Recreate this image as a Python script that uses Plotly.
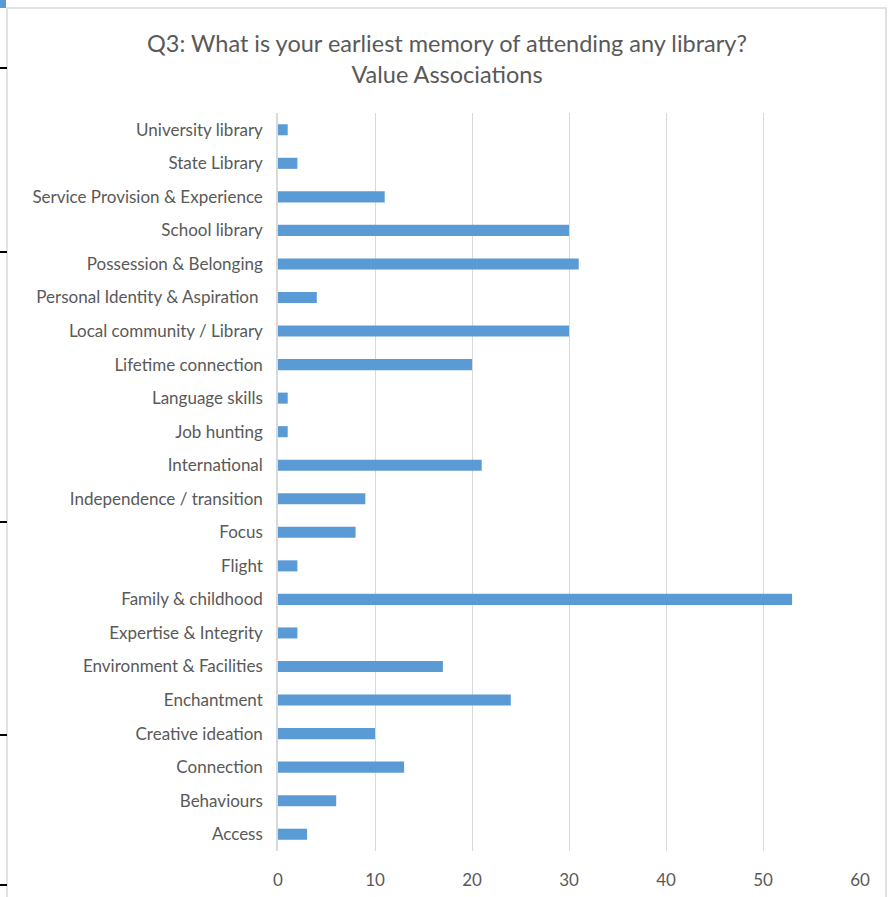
import plotly.graph_objects as go

categories = ["Access", "Behaviours", "Connection", "Creative ideation", "Enchantment",
              "Environment & Facilities", "Expertise & Integrity", "Family & childhood",
              "Flight", "Focus", "Independence / transition", "International",
              "Job hunting", "Language skills", "Lifetime connection",
              "Local community / Library", "Personal Identity & Aspiration ",
              "Possession & Belonging", "School library", "Service Provision & Experience",
              "State Library", "University library"]
values = [3, 6, 13, 10, 24, 17, 2, 53, 2, 8, 9, 21, 1, 1, 20, 30, 4, 31, 30, 11, 2, 1]
x_ticks = [0, 10, 20, 30, 40, 50, 60]

W, H = 894, 897
L, R, T, B = 278, 34, 113, 46
pw, ph = W - L - R, H - T - B

def px(x):
    return (x - L) / pw

def py(y):
    return (H - B - y) / ph

fig = go.Figure(go.Bar(
    x=values, y=categories, orientation="h",
    marker=dict(color="#5B9BD5", line=dict(width=0)),
    width=0.33,
))

shapes = [
    dict(type="rect", xref="paper", yref="paper", x0=px(7), x1=px(886), y0=py(905), y1=py(8),
         line=dict(color="#D9D9D9", width=1.5), fillcolor="rgba(0,0,0,0)", layer="below"),
    dict(type="rect", xref="paper", yref="paper", x0=px(0), x1=px(6), y0=py(8), y1=py(0),
         line=dict(width=0), fillcolor="#5B9BD5"),
]
for yy in [68, 252, 522, 735, 885]:
    shapes.append(dict(type="line", xref="paper", yref="paper", x0=px(0), x1=px(7),
                       y0=py(yy), y1=py(yy), line=dict(color="black", width=2)))

fig.update_layout(
    width=W, height=H,
    margin=dict(l=L, r=R, t=T, b=B, autoexpand=False),
    paper_bgcolor="white", plot_bgcolor="white",
    font=dict(family="Lato, Carlito, 'Open Sans', sans-serif", color="#595959", size=17),
    title=dict(text="Q3: What is your earliest memory of attending any library?<br>Value Associations",
               x=0.5, xref="container", xanchor="center", y=1 - 52 / H, yanchor="top",
               font=dict(size=23.5, color="#595959")),
    showlegend=False,
    bargap=0.67,
    shapes=shapes,
)
fig.update_xaxes(range=[0, 60], tickvals=x_ticks, showgrid=True, gridcolor="#D9D9D9",
                 gridwidth=1, zeroline=False, showline=False, ticks="outside", ticklen=14,
                 tickcolor="rgba(0,0,0,0)", tickfont=dict(size=17, color="#595959"),
                 automargin=False, fixedrange=True)
fig.update_yaxes(categoryorder="array", categoryarray=categories, showgrid=False,
                 showline=True, linecolor="#D9D9D9", linewidth=1.5, ticks="outside",
                 ticklen=10, tickcolor="rgba(0,0,0,0)", tickfont=dict(size=17, color="#595959"),
                 automargin=False, fixedrange=True)

fig.write_html("out.html", config={"displayModeBar": False},
               post_script="document.body.style.margin='0';document.body.style.overflow='hidden';")
